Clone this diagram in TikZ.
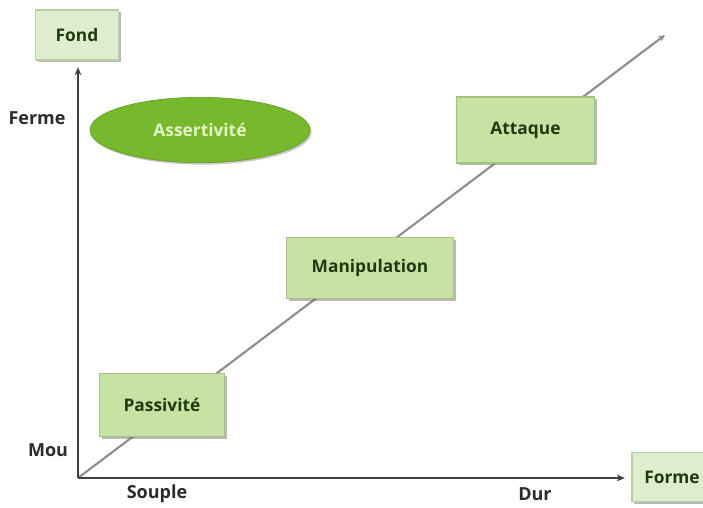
\documentclass[tikz,border=0pt]{standalone}
\usepackage{fontspec}
\setmainfont{Open Sans}
\usetikzlibrary{arrows.meta,shadows,shapes.geometric}
\definecolor{boxfill}{HTML}{C8E2A4}
\definecolor{boxline}{HTML}{A3C47C}
\definecolor{palefill}{HTML}{DFEDCF}
\definecolor{paleline}{HTML}{B9D0A2}
\definecolor{boxtext}{HTML}{1E3A0E}
\definecolor{ovalfill}{HTML}{78B82C}
\definecolor{ovaltext}{HTML}{E4F4C6}
\definecolor{axistext}{HTML}{2B2B2B}
\definecolor{diagline}{HTML}{8E8E8E}
\tikzset{
  stagebox/.style={draw=boxline, fill=boxfill, line width=0.8pt, text=boxtext,
    font=\fontsize{13}{15}\selectfont\bfseries, inner sep=0pt,
    drop shadow={shadow xshift=1.8pt, shadow yshift=-1.8pt, opacity=0.45, fill=black!60}},
  axisbox/.style={stagebox, draw=paleline, fill=palefill},
  axislabel/.style={text=axistext, font=\fontsize{13.5}{15}\selectfont\bfseries, inner sep=0pt},
  axisline/.style={draw=axistext!90, line width=1.5pt, -{Stealth[length=6pt,width=5pt]}},
}
\begin{document}
\begin{tikzpicture}[x=0.75pt,y=-0.75pt]
  \useasboundingbox[fill=white] (0,0) rectangle (703,507);
  \begin{scope}
  \clip (0,0) rectangle (703,507);

  % origin and the tip of the diagonal
  \coordinate (O) at (78,478);
  \coordinate (tip) at (665,35);

  % diagonal trend line, drawn under the boxes
  \draw[diagline, line width=1.6pt, -{Stealth[length=5pt,width=4.5pt]}] (O) -- (tip);

  % axis end boxes
  \node[axisbox, minimum width=62.25pt, minimum height=37.5pt] (fond) at (77,35) {Fond};
  \node[axisbox, minimum width=60pt, minimum height=37pt] (forme) at (672,477) {Forme};

  % axes
  \draw[axisline, shorten >=5pt] (O) -- (O |- fond.south);
  \draw[axisline, shorten >=5pt] (O) -- (O -| forme.west);

  % stage boxes along the diagonal
  \node[stagebox, minimum width=94pt, minimum height=47pt] (passivite) at (162,405) {Passivité};
  \node[stagebox, minimum width=125pt, minimum height=46pt] (manip) at (370,268) {Manipulation};
  \node[stagebox, minimum width=104pt, minimum height=49.5pt] (attaque) at (525.5,130) {Attaque};

  % assertiveness oval
  \node[ellipse, fill=ovalfill, draw=ovalfill!85!black, line width=0.5pt, text=ovaltext,
        font=\fontsize{13}{15}\selectfont\bfseries, minimum width=165pt, minimum height=49pt,
        inner sep=0pt,
        drop shadow={shadow xshift=1.2pt, shadow yshift=-1.5pt, opacity=0.35, fill=black!60}]
        (assert) at (200,130) {Assertivité};

  % axis labels
  \node[axislabel] (ferme) at (37,118) {Ferme};
  \node[axislabel] (mou) at (48,450) {Mou};
  \node[axislabel] (souple) at (157,494) {Souple};
  \node[axislabel] (dur) at (535,494) {Dur};
  \end{scope}
\end{tikzpicture}
\end{document}
